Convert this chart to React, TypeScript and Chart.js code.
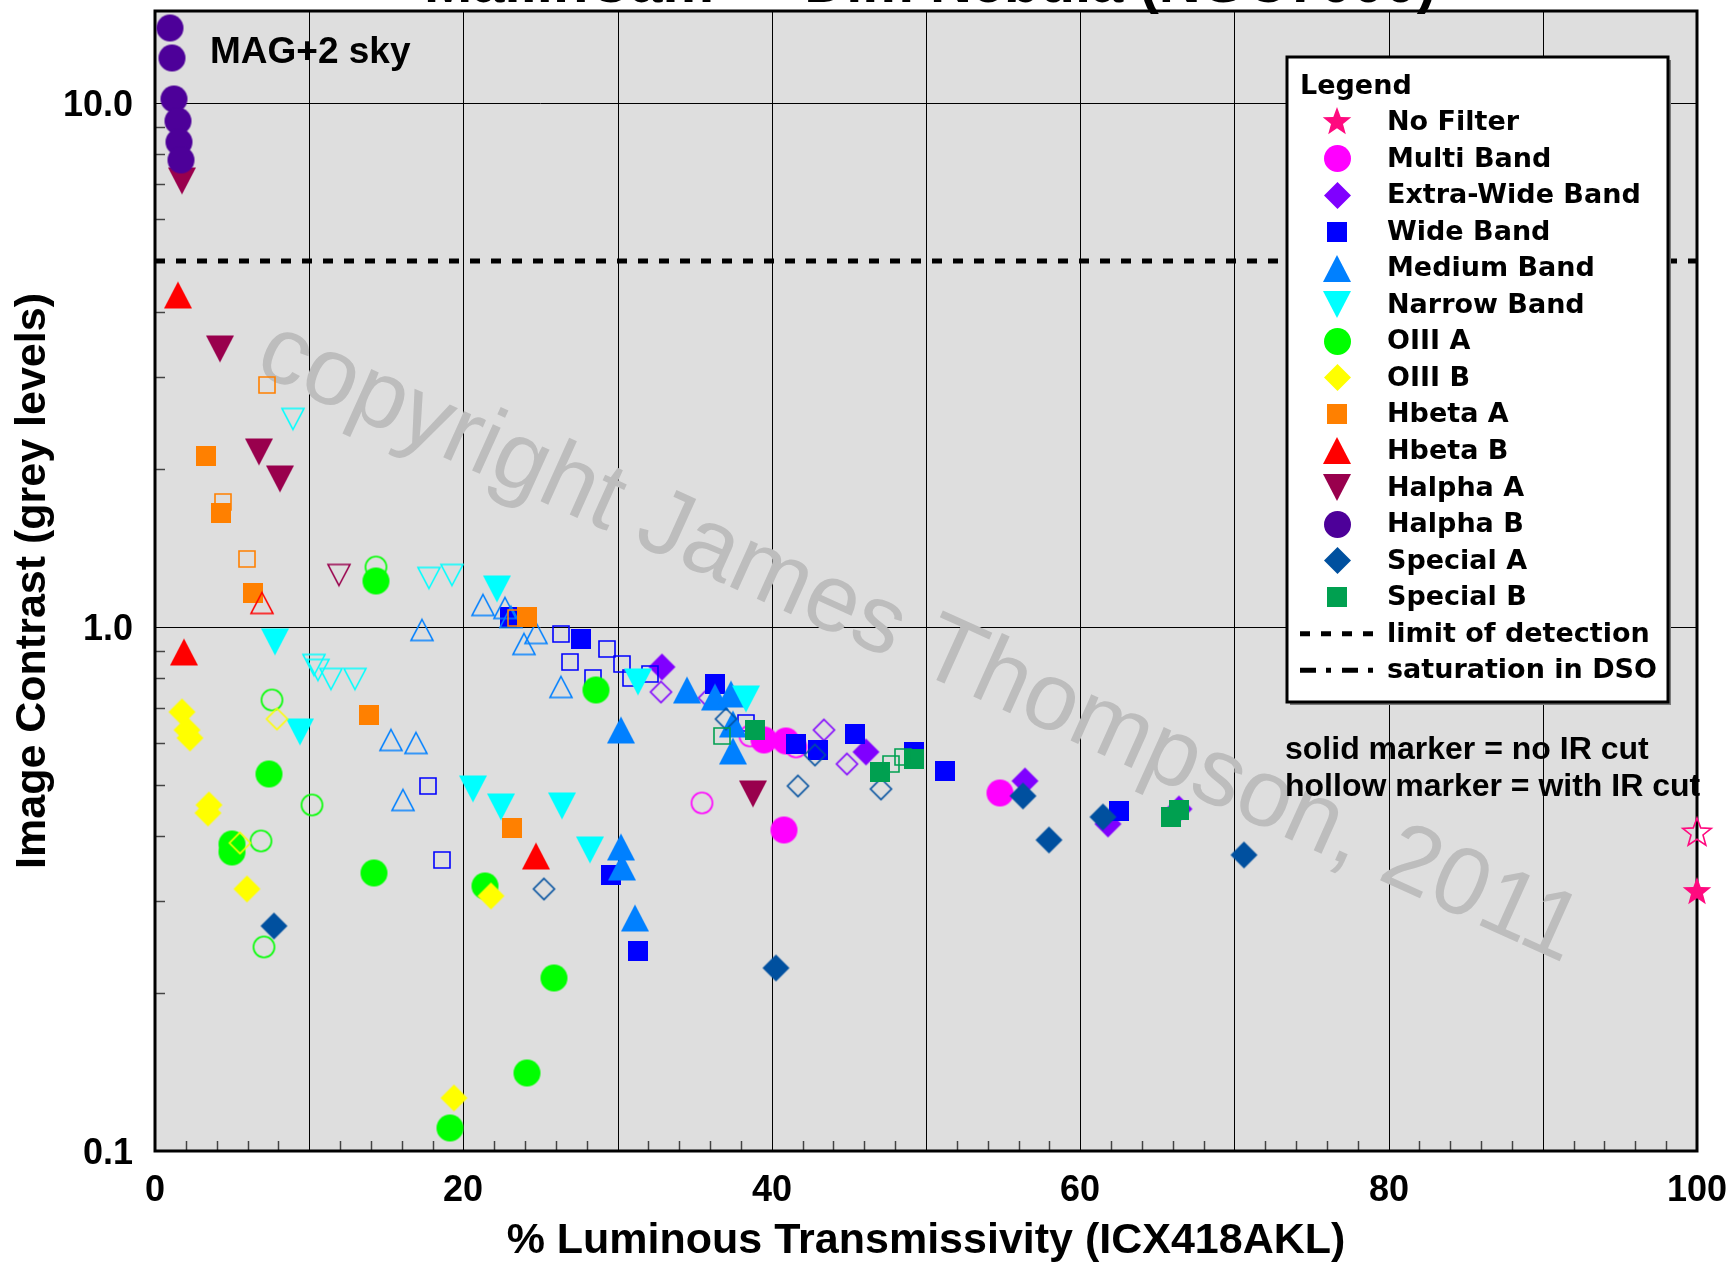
import React, { useEffect, useRef } from 'react';
import { Chart, registerables } from 'chart.js';

Chart.register(...registerables);

type Pt = [number, number];

// ---------------- data (x = % luminous transmissivity, y = image contrast) ----------------
const noFilterSolid: Pt[] = [[100, 0.312]];
const noFilterHollow: Pt[] = [[100, 0.405]];

const multiBandSolid: Pt[] = [[39.5, 0.609], [40.9, 0.605], [40.8, 0.41], [54.8, 0.483]];
const multiBandHollow: Pt[] = [[38.6, 0.621], [41.6, 0.59], [35.5, 0.461]];

const extraWideSolid: Pt[] = [[32.9, 0.839], [46.1, 0.577], [56.4, 0.509], [61.8, 0.421], [66.4, 0.45]];
const extraWideHollow: Pt[] = [[32.8, 0.752], [35.9, 0.733], [43.4, 0.635], [44.9, 0.548]];

const wideSolid: Pt[] = [[23.0, 1.045], [27.6, 0.95], [36.3, 0.78], [41.6, 0.598], [43.0, 0.583], [45.4, 0.626], [49.2, 0.577], [51.2, 0.532], [29.6, 0.336], [31.3, 0.241], [62.5, 0.445]];
const wideHollow: Pt[] = [[26.3, 0.971], [26.9, 0.857], [29.3, 0.91], [30.3, 0.851], [28.4, 0.8], [30.9, 0.8], [32.1, 0.815], [38.35, 0.656], [17.7, 0.498], [18.6, 0.36]];

const mediumSolid: Pt[] = [[30.2, 0.635], [34.5, 0.757], [36.3, 0.735], [37.35, 0.746], [37.5, 0.653], [37.5, 0.58], [30.2, 0.38], [30.3, 0.348], [31.1, 0.279]];
const mediumHollow: Pt[] = [[21.3, 1.1], [22.7, 1.09], [23.1, 1.045], [23.9, 0.93], [24.7, 0.974], [17.3, 0.986], [26.3, 0.77], [15.3, 0.608], [16.95, 0.6], [16.1, 0.467]];

const narrowSolid: Pt[] = [[7.75, 0.935], [22.2, 1.18], [9.4, 0.63], [20.65, 0.49], [22.45, 0.453], [26.4, 0.455], [28.2, 0.376], [31.35, 0.785], [38.35, 0.73]];
const narrowHollow: Pt[] = [[8.95, 2.5], [10.3, 0.845], [10.6, 0.827], [11.4, 0.797], [12.95, 0.797], [17.75, 1.24], [19.25, 1.26]];

const oiiiASolid: Pt[] = [[14.3, 1.227], [28.6, 0.757], [7.4, 0.525], [5.0, 0.386], [5.0, 0.372], [14.2, 0.339], [21.4, 0.32], [25.9, 0.214], [24.1, 0.141], [19.1, 0.1106]];
const oiiiAHollow: Pt[] = [[14.3, 1.3], [7.6, 0.727], [10.2, 0.457], [6.9, 0.39], [7.1, 0.245]];

const oiiiBSolid: Pt[] = [[1.75, 0.69], [2.06, 0.635], [2.28, 0.615], [3.47, 0.457], [3.43, 0.441], [5.96, 0.316], [21.8, 0.307], [19.4, 0.1265]];
const oiiiBHollow: Pt[] = [[7.9, 0.668], [5.5, 0.388]];

const hbetaASolid: Pt[] = [[3.3, 2.12], [4.3, 1.65], [6.35, 1.16], [24.1, 1.045], [13.9, 0.68], [23.15, 0.414]];
const hbetaAHollow: Pt[] = [[7.25, 2.9], [4.4, 1.73], [5.95, 1.35], [23.4, 1.04]];

const hbetaBSolid: Pt[] = [[1.5, 4.3], [1.9, 0.895], [24.7, 0.365]];
const hbetaBHollow: Pt[] = [[6.95, 1.11]];

const halphaASolid: Pt[] = [[1.75, 7.1], [4.2, 3.4], [6.75, 2.16], [8.1, 1.92], [38.8, 0.48]];
const halphaAHollow: Pt[] = [[11.95, 1.26]];

const halphaBSolid: Pt[] = [[0.97, 13.9], [1.08, 12.2], [1.26, 10.2], [1.46, 9.25], [1.55, 8.43], [1.67, 7.78]];
const halphaBHollow: Pt[] = [];

const specialASolid: Pt[] = [[7.7, 0.269], [40.3, 0.224], [56.3, 0.477], [57.95, 0.393], [61.45, 0.434], [70.6, 0.367]];
const specialAHollow: Pt[] = [[25.2, 0.316], [37.05, 0.668], [42.8, 0.569], [41.7, 0.498], [47.1, 0.491]];

const specialBSolid: Pt[] = [[38.9, 0.635], [47.0, 0.529], [49.2, 0.561], [65.9, 0.434], [66.4, 0.447]];
const specialBHollow: Pt[] = [[36.8, 0.621], [47.7, 0.548], [48.5, 0.564]];

const limitOfDetection = 5.0;
const xTickLabels = ['0', '20', '40', '60', '80', '100'];
const yTickValues = [0.1, 1, 10];
const yTickLabels = ['0.1', '1.0', '10.0'];

const SERIES = [
  { label: 'No Filter', color: '#ff0a7f', shape: 'star', solid: noFilterSolid, hollow: noFilterHollow },
  { label: 'Multi Band', color: '#ff00ff', shape: 'circle', solid: multiBandSolid, hollow: multiBandHollow },
  { label: 'Extra-Wide Band', color: '#8000ff', shape: 'diamond', solid: extraWideSolid, hollow: extraWideHollow },
  { label: 'Wide Band', color: '#0000ff', shape: 'square', solid: wideSolid, hollow: wideHollow },
  { label: 'Medium Band', color: '#0080ff', shape: 'triUp', solid: mediumSolid, hollow: mediumHollow },
  { label: 'Narrow Band', color: '#00ffff', shape: 'triDown', solid: narrowSolid, hollow: narrowHollow },
  { label: 'OIII A', color: '#00ff00', shape: 'circle', solid: oiiiASolid, hollow: oiiiAHollow },
  { label: 'OIII B', color: '#ffff00', shape: 'diamond', solid: oiiiBSolid, hollow: oiiiBHollow },
  { label: 'Hbeta A', color: '#ff8000', shape: 'square', solid: hbetaASolid, hollow: hbetaAHollow },
  { label: 'Hbeta B', color: '#ff0000', shape: 'triUp', solid: hbetaBSolid, hollow: hbetaBHollow },
  { label: 'Halpha A', color: '#99004d', shape: 'triDown', solid: halphaASolid, hollow: halphaAHollow },
  { label: 'Halpha B', color: '#4d0099', shape: 'circle', solid: halphaBSolid, hollow: halphaBHollow },
  { label: 'Special A', color: '#00509f', shape: 'diamond', solid: specialASolid, hollow: specialAHollow },
  { label: 'Special B', color: '#00a050', shape: 'square', solid: specialBSolid, hollow: specialBHollow },
];

const FONT = '"Liberation Sans", Arial, Helvetica, sans-serif';
const LEGEND_FONT = '"DejaVu Sans", Verdana, sans-serif';
const W = 1733;
const H = 1263;

function makeMarker(shape: string, color: string, filled: boolean): HTMLCanvasElement {
  const dims: Record<string, [number, number]> = {
    circle: filled ? [27, 27] : [21, 21],
    square: filled ? [20, 20] : [16, 16],
    triUp: filled ? [28, 27] : [22, 21],
    triDown: filled ? [28, 27] : [22, 21],
    diamond: filled ? [27, 27] : [21, 21],
    star: [30, 30],
  };
  const [w, h] = dims[shape];
  const pad = 3;
  const c = document.createElement('canvas');
  c.width = w + pad * 2;
  c.height = h + pad * 2;
  const ctx = c.getContext('2d')!;
  ctx.translate(c.width / 2, c.height / 2);
  ctx.beginPath();
  switch (shape) {
    case 'circle':
      ctx.arc(0, 0, w / 2, 0, Math.PI * 2);
      break;
    case 'square':
      ctx.rect(-w / 2, -h / 2, w, h);
      break;
    case 'triUp':
      ctx.moveTo(0, -h / 2);
      ctx.lineTo(w / 2, h / 2);
      ctx.lineTo(-w / 2, h / 2);
      ctx.closePath();
      break;
    case 'triDown':
      ctx.moveTo(0, h / 2);
      ctx.lineTo(w / 2, -h / 2);
      ctx.lineTo(-w / 2, -h / 2);
      ctx.closePath();
      break;
    case 'diamond':
      ctx.moveTo(0, -h / 2);
      ctx.lineTo(w / 2, 0);
      ctx.lineTo(0, h / 2);
      ctx.lineTo(-w / 2, 0);
      ctx.closePath();
      break;
    case 'star': {
      const R = w / 2;
      const r = R * 0.42;
      for (let i = 0; i < 10; i++) {
        const ang = -Math.PI / 2 + (i * Math.PI) / 5;
        const rad = i % 2 === 0 ? R : r;
        const px = Math.cos(ang) * rad;
        const py = Math.sin(ang) * rad;
        if (i === 0) ctx.moveTo(px, py);
        else ctx.lineTo(px, py);
      }
      ctx.closePath();
      break;
    }
  }
  if (filled) {
    ctx.fillStyle = color;
    ctx.fill();
  } else {
    ctx.strokeStyle = color;
    ctx.lineWidth = 1.6;
    ctx.stroke();
  }
  return c;
}

export default function App() {
  const ref = useRef<HTMLCanvasElement>(null);

  useEffect(() => {
    const canvas = ref.current;
    if (!canvas) return;

    const cache = new Map<string, HTMLCanvasElement>();
    const marker = (shape: string, color: string, filled: boolean) => {
      const key = shape + color + filled;
      if (!cache.has(key)) cache.set(key, makeMarker(shape, color, filled));
      return cache.get(key)!;
    };

    const markerSets: any[] = [];
    SERIES.forEach((s) => {
      markerSets.push({
        type: 'scatter',
        label: s.label,
        data: s.solid.map(([x, y]) => ({ x, y })),
        pointStyle: marker(s.shape, s.color, true),
        pointRadius: 10,
        pointHoverRadius: 10,
        showLine: false,
        clip: false,
      });
      if (s.hollow.length) {
        markerSets.push({
          type: 'scatter',
          label: s.label + ' (IR cut)',
          data: s.hollow.map(([x, y]) => ({ x, y })),
          pointStyle: marker(s.shape, s.color, false),
          pointRadius: 10,
          pointHoverRadius: 10,
          showLine: false,
          clip: false,
        });
      }
    });
    // Chart.js paints dataset 0 last (on top): reverse so later legend series are on top
    const datasets = markerSets.reverse();
    datasets.push({
      type: 'line',
      label: 'limit of detection',
      data: [
        { x: 0, y: limitOfDetection },
        { x: 100, y: limitOfDetection },
      ],
      borderColor: '#000',
      borderWidth: 5,
      borderDash: [10, 11],
      borderCapStyle: 'butt',
      pointRadius: 0,
      fill: false,
    });

    const decor = {
      id: 'decor',
      beforeDraw(chart: any) {
        const { ctx, chartArea: a } = chart;
        ctx.save();
        ctx.fillStyle = '#fff';
        ctx.fillRect(0, 0, W, H);
        ctx.fillStyle = '#dedede';
        ctx.fillRect(a.left, a.top, a.right - a.left, a.bottom - a.top);
        ctx.restore();
      },
      beforeDatasetsDraw(chart: any) {
        const { ctx, chartArea: a, scales } = chart;
        ctx.save();
        // watermark
        ctx.translate(919, 643);
        ctx.rotate((24.3 * Math.PI) / 180);
        ctx.font = `96px ${FONT}`;
        ctx.fillStyle = '#bdbdbd';
        ctx.textAlign = 'center';
        ctx.textBaseline = 'middle';
        ctx.fillText('copyright James Thompson, 2011', 0, 0);
        ctx.restore();

        ctx.save();
        ctx.strokeStyle = '#444';
        ctx.lineWidth = 1.5;
        // minor y ticks
        [0.1, 1, 10].forEach((d) => {
          for (let m = 2; m <= 9; m++) {
            const v = d * m;
            if (v > 15) continue;
            const py = Math.round(scales.y.getPixelForValue(v)) + 0.5;
            ctx.beginPath();
            ctx.moveTo(a.left, py);
            ctx.lineTo(a.left + 10, py);
            ctx.stroke();
          }
        });
        // minor x ticks
        for (let v = 2; v < 100; v += 2) {
          if (v % 10 === 0) continue;
          const px = Math.round(scales.x.getPixelForValue(v)) + 0.5;
          ctx.beginPath();
          ctx.moveTo(px, a.bottom);
          ctx.lineTo(px, a.bottom - 10);
          ctx.stroke();
        }
        // plot border
        ctx.strokeStyle = '#000';
        ctx.lineWidth = 3;
        ctx.strokeRect(a.left, a.top, a.right - a.left, a.bottom - a.top);
        ctx.restore();
      },
      afterDatasetsDraw(chart: any) {
        const { ctx } = chart;
        ctx.save();
        // legend box
        const L = 1287, T = 57, R = 1668, B = 702;
        ctx.fillStyle = '#7a7a7a';
        ctx.fillRect(L + 3, T + 3, R - L, B - T);
        ctx.fillStyle = '#fff';
        ctx.fillRect(L, T, R - L, B - T);
        ctx.strokeStyle = '#000';
        ctx.lineWidth = 3;
        ctx.strokeRect(L, T, R - L, B - T);

        ctx.fillStyle = '#000';
        ctx.font = `bold 27px ${LEGEND_FONT}`;
        ctx.textAlign = 'left';
        ctx.textBaseline = 'middle';
        ctx.fillText('Legend', 1300, 87);
        const y0 = 123;
        const step = 36.55;
        SERIES.forEach((s, i) => {
          const y = y0 + i * step;
          const m = marker(s.shape, s.color, true);
          ctx.drawImage(m, Math.round(1337 - m.width / 2), Math.round(y - 1 - m.height / 2));
          ctx.fillStyle = '#000';
          ctx.fillText(s.label, 1387, y);
        });
        const lines = [
          { label: 'limit of detection', dash: [10, 11] },
          { label: 'saturation in DSO', dash: [16, 10, 5, 11] },
        ];
        lines.forEach((l, j) => {
          const y = y0 + (SERIES.length + j) * step;
          ctx.save();
          ctx.strokeStyle = '#000';
          ctx.lineWidth = 5;
          ctx.setLineDash(l.dash);
          ctx.beginPath();
          ctx.moveTo(1300, y - 1);
          ctx.lineTo(1374, y - 1);
          ctx.stroke();
          ctx.restore();
          ctx.fillText(l.label, 1387, y);
        });

        // annotations
        ctx.font = `bold 32px ${FONT}`;
        ctx.fillText('solid marker = no IR cut', 1285, 750);
        ctx.fillText('hollow marker = with IR cut', 1285, 787);
        ctx.font = `bold 37px ${FONT}`;
        ctx.fillText('MAG+2 sky', 210, 53);

        // clipped title at the very top
        ctx.font = `bold 58px ${FONT}`;
        ctx.textAlign = 'right';
        ctx.textBaseline = 'alphabetic';
        ctx.fillText('MallinCam \u2014 Dim Nebula (NGC7000)', 1436, 2);
        ctx.restore();
      },
    };

    const chart = new Chart(canvas, {
      type: 'scatter',
      data: { datasets },
      options: {
        animation: false,
        responsive: false,
        events: [],
        layout: { padding: { left: 0, top: 11, right: 36, bottom: 0 } },
        plugins: {
          legend: { display: false },
          tooltip: { enabled: false },
          title: { display: false },
        },
        scales: {
          x: {
            type: 'linear',
            min: 0,
            max: 100,
            alignToPixels: true,
            afterFit: (s: any) => {
              s.height = 112;
              s.paddingLeft = 0;
              s.paddingRight = 0;
            },
            ticks: {
              stepSize: 10,
              autoSkip: false,
              maxRotation: 0,
              padding: 22,
              color: '#000',
              font: { family: FONT, size: 36, weight: 'bold', lineHeight: 1 },
              callback: (v: any) => {
                const idx = xTickLabels.indexOf(String(v));
                return idx >= 0 ? xTickLabels[idx] : '';
              },
            },
            grid: { color: '#000', lineWidth: 1, drawTicks: false },
            border: { display: false },
            title: {
              display: true,
              text: '% Luminous Transmissivity (ICX418AKL)',
              color: '#000',
              font: { family: FONT, size: 43, weight: 'bold', lineHeight: 1 },
              padding: { top: 0, bottom: 0 },
            },
          },
          y: {
            type: 'logarithmic',
            min: 0.1,
            max: 15,
            alignToPixels: true,
            afterFit: (s: any) => {
              s.width = 155;
              s.paddingTop = 0;
              s.paddingBottom = 0;
            },
            afterBuildTicks: (s: any) => {
              s.ticks = yTickValues.map((v) => ({ value: v }));
            },
            ticks: {
              padding: 22,
              labelOffset: 3,
              color: '#000',
              font: { family: FONT, size: 36, weight: 'bold', lineHeight: 1 },
              callback: (v: any) => {
                const idx = yTickValues.findIndex((t) => Math.abs(t - Number(v)) < 1e-9);
                return idx >= 0 ? yTickLabels[idx] : '';
              },
            },
            grid: { color: '#000', lineWidth: 1, drawTicks: false },
            border: { display: false },
            title: {
              display: true,
              text: 'Image Contrast (grey levels)',
              color: '#000',
              font: { family: FONT, size: 43, weight: 'bold', lineHeight: 1 },
              padding: { top: 12, bottom: 0 },
            },
          },
        },
      } as any,
      plugins: [decor as any],
    });

    return () => {
      chart.destroy();
    };
  }, []);

  return (
    <div style={{ position: 'fixed', left: 0, top: 0, width: W, height: H, background: '#fff' }}>
      <canvas ref={ref} width={W} height={H} style={{ width: W, height: H, display: 'block' }} />
    </div>
  );
}
